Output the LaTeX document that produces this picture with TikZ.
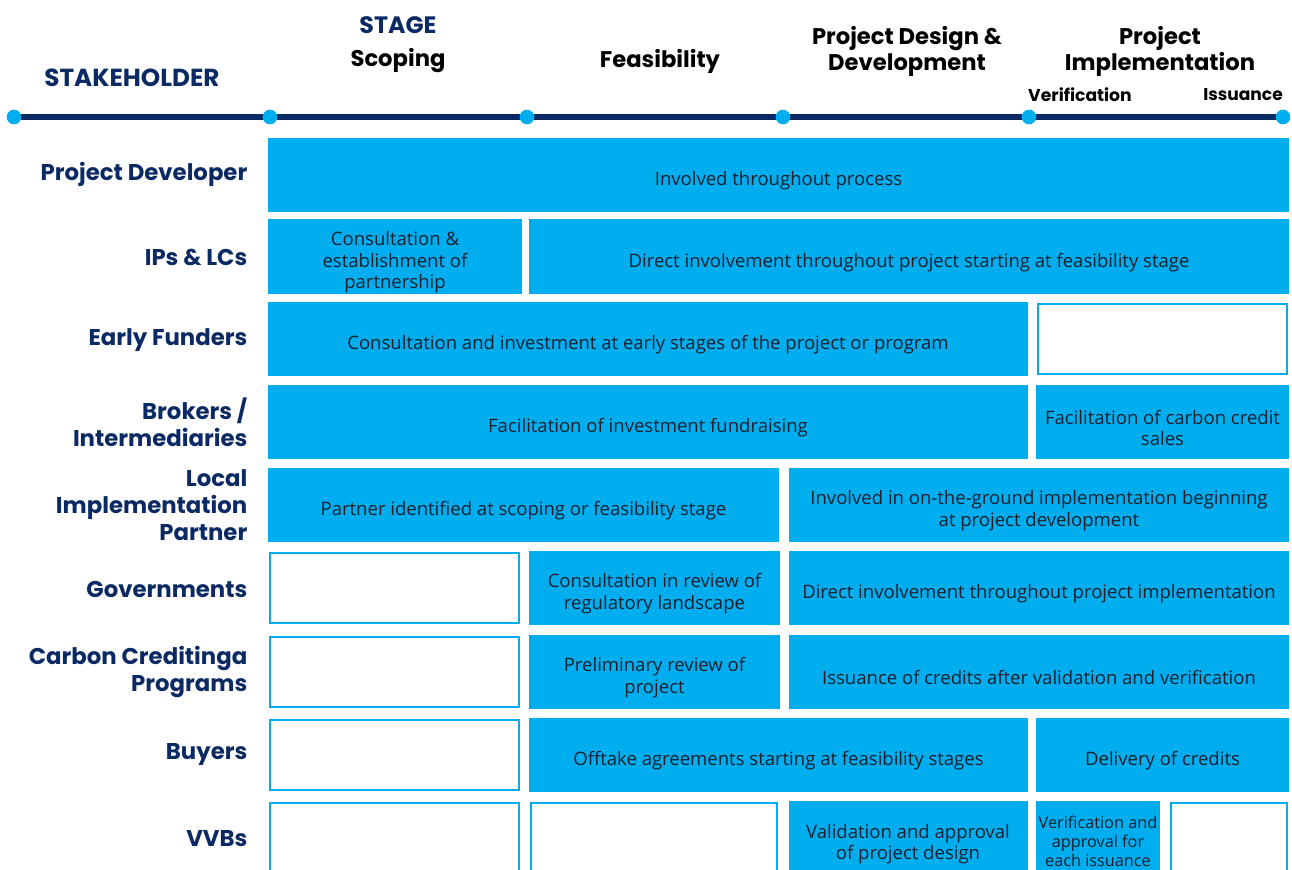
\documentclass[tikz,border=0pt]{standalone}
\usepackage{fontspec}
\setmainfont{Open Sans}
\newfontfamily\headfont{Poppins}
\definecolor{cy}{HTML}{00AEEF}
\definecolor{navy}{HTML}{0B2A63}
\definecolor{btxt}{HTML}{1A1F2E}
\begin{document}
\begin{tikzpicture}[x=0.75pt,y=-0.75pt,
  fbox/.style={fill=cy,draw=none,text=btxt,font=\fontsize{13.9}{16}\selectfont,align=center},
  bt/.style={yshift=-4.3pt},
  obox/.style={fill=white,draw=cy,line width=2.2pt},
  slabel/.style={anchor=east,align=right,text=navy,font=\headfont\bfseries\fontsize{17.1}{20}\selectfont},
  hlabel/.style={align=center,text=black,font=\headfont\bfseries\fontsize{17}{19.5}\selectfont},
  dot/.style={circle,fill=cy,inner sep=0pt,minimum size=11pt}]
\useasboundingbox (0,0) rectangle (1292,870);
% header
\node[hlabel,text=navy,font=\headfont\bfseries\fontsize{17.8}{20}\selectfont] (stage) at (398,25) {STAGE};
\node[hlabel,text=navy,font=\headfont\bfseries\fontsize{18.5}{20}\selectfont] (stake) at (132,78) {STAKEHOLDER};
\node[hlabel] (scop) at (398,61) {Scoping};
\node[hlabel] (feas) at (660,61) {Feasibility};
\node[hlabel] (pdd) at (907,51) {Project Design \&\\Development};
\node[hlabel] (pimp) at (1160,51) {Project\\Implementation};
\node[hlabel,font=\headfont\bfseries\fontsize{12.9}{14}\selectfont] (ver) at (1080,95) {Verification};
\node[hlabel,font=\headfont\bfseries\fontsize{12.8}{14}\selectfont] (iss) at (1243,95) {Issuance};
% timeline
\coordinate (t0) at (14,117);
\coordinate (t5) at (1283,117);
\draw[navy,line width=4.5pt] (t0) -- (t5);
\foreach \x/\n in {14/d0,270/d1,527/d2,783/d3,1029/d4,1283/d5}
  \node[dot] (\n) at (\x,117) {};
% row labels
\node[slabel] (l1) at (252,174) {Project Developer};
\node[slabel] (l2) at (252,257) {IPs \& LCs};
\node[slabel] (l3) at (252,340) {Early Funders};
\node[slabel] (l4) at (252,422) {Brokers /\\Intermediaries};
\node[slabel] (l5) at (252,505) {Local\\Implementation\\Partner};
\node[slabel] (l6) at (252,589) {Governments};
\node[slabel] (l7) at (252,672) {Carbon Creditinga\\Programs};
\node[slabel] (l8) at (252,755) {Buyers};
\node[slabel] (l9) at (252,839) {VVBs};
% row 1
\path[fbox] (268,138) rectangle node[bt] (b1) {Involved throughout process} (1289,212);
% row 2
\path[fbox] (268,219) rectangle node[bt] (b21) {Consultation \&\\establishment of\\partnership} (522,294);
\path[fbox] (529,219) rectangle node[bt] (b22) {Direct involvement throughout project starting at feasibility stage} (1289,294);
% row 3
\path[fbox] (268,302) rectangle node[bt] (b31) {Consultation and investment at early stages of the project or program} (1028,376);
\draw[obox] (1038,304) rectangle (1287,374);
% row 4
\path[fbox] (268,385) rectangle node[bt] (b41) {Facilitation of investment fundraising} (1028,459);
\path[fbox] (1036,385) rectangle node[bt] (b42) {Facilitation of carbon credit\\sales} (1289,459);
% row 5
\path[fbox] (268,468) rectangle node[bt] (b51) {Partner identified at scoping or feasibility stage} (779,542);
\path[fbox] (789,468) rectangle node[bt] (b52) {Involved in on-the-ground implementation beginning\\at project development} (1289,542);
% row 6
\draw[obox] (270,553) rectangle (519,623);
\path[fbox] (529,551) rectangle node[bt] (b62) {Consultation in review of\\regulatory landscape} (780,625);
\path[fbox] (789,551) rectangle node[bt] (b63) {Direct involvement throughout project implementation} (1289,625);
% row 7
\draw[obox] (270,637) rectangle (519,707);
\path[fbox] (529,635) rectangle node[bt] (b72) {Preliminary review of\\project} (780,709);
\path[fbox] (789,635) rectangle node[bt] (b73) {Issuance of credits after validation and verification} (1289,709);
% row 8
\draw[obox] (270,720) rectangle (519,790);
\path[fbox] (529,718) rectangle node[bt] (b82) {Offtake agreements starting at feasibility stages} (1028,792);
\path[fbox] (1036,718) rectangle node[bt] (b83) {Delivery of credits} (1289,792);
% row 9
\draw[obox] (270,803) rectangle (519,876);
\draw[obox] (531,803) rectangle (777,876);
\path[fbox] (789,801) rectangle (1028,876);
\node[fbox,fill=none] (b93) at (908,844) {Validation and approval\\of project design};
\path[fbox] (1036,801) rectangle (1160,876);
\node[fbox,fill=none,font=\fontsize{12.2}{14.3}\selectfont] (b94) at (1098,841) {Verification and\\approval for\\each issuance};
\draw[obox] (1171,803) rectangle (1287,876);
\end{tikzpicture}
\end{document}
